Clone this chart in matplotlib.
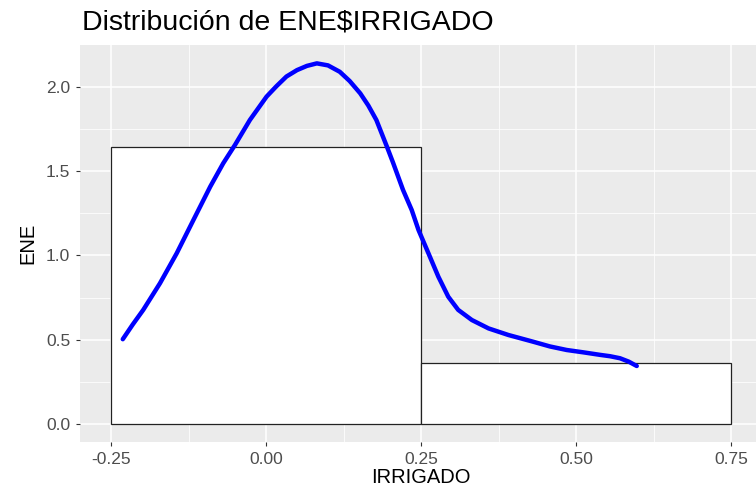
import matplotlib
matplotlib.use("Agg")
import matplotlib.pyplot as plt

plt.rcParams['font.family'] = ['Liberation Sans', 'DejaVu Sans']

# histogram bins (density scale)
bin_left = [-0.25, 0.25]
bin_width = 0.5
bin_height = [1.644, 0.362]

# density curve
dens_x = [-0.231, -0.215, -0.198, -0.171, -0.144, -0.117, -0.090, -0.069, -0.050, -0.026,
          0.001, 0.017, 0.033, 0.050, 0.066, 0.082, 0.100, 0.119, 0.135, 0.152,
          0.165, 0.178, 0.195, 0.205, 0.221, 0.235, 0.246, 0.262, 0.278, 0.294,
          0.310, 0.332, 0.359, 0.391, 0.411, 0.431, 0.458, 0.485, 0.512,
          0.539, 0.555, 0.571, 0.585, 0.598]
dens_y = [0.503, 0.590, 0.677, 0.835, 1.013, 1.211, 1.408, 1.547, 1.656, 1.804,
          1.943, 2.005, 2.062, 2.100, 2.125, 2.140, 2.128, 2.090, 2.035, 1.962,
          1.890, 1.804, 1.646, 1.550, 1.389, 1.270, 1.151, 1.013, 0.874, 0.755,
          0.677, 0.617, 0.567, 0.528, 0.508, 0.488, 0.460, 0.439, 0.425,
          0.410, 0.402, 0.390, 0.370, 0.344]

x_ticks = [-0.25, 0.0, 0.25, 0.50, 0.75]
x_labels = ['-0.25', '0.00', '0.25', '0.50', '0.75']
x_minor = [-0.125, 0.125, 0.375, 0.625]
y_ticks = [0.0, 0.5, 1.0, 1.5, 2.0]
y_labels = ['0.0', '0.5', '1.0', '1.5', '2.0']
y_minor = [0.25, 0.75, 1.25, 1.75]

fig = plt.figure(figsize=(7.56, 4.9), dpi=100)
ax = fig.add_axes([80/756, 48/490, 682/756, 397/490])
ax.set_facecolor('#EBEBEB')
for s in ax.spines.values():
    s.set_visible(False)

ax.set_xlim(-0.3, 0.8)
ax.set_ylim(-0.107, 2.249)
ax.set_xticks(x_ticks)
ax.set_xticklabels(x_labels)
ax.set_yticks(y_ticks)
ax.set_yticklabels(y_labels)
ax.set_xticks(x_minor, minor=True)
ax.set_yticks(y_minor, minor=True)

ax.grid(which='major', color='white', linewidth=1.1)
ax.grid(which='minor', color='white', linewidth=0.55)
ax.set_axisbelow(True)
ax.tick_params(which='major', length=3, width=0.8, color='#333333',
               labelcolor='#4D4D4D', labelsize=12.5)
ax.tick_params(axis='x', which='major', pad=4.5)
ax.tick_params(axis='y', which='major', pad=4)
ax.tick_params(which='minor', length=0)

ax.bar(bin_left, bin_height, width=bin_width, align='edge',
       facecolor='white', edgecolor='#222222', linewidth=0.9, zorder=2)
ax.plot(dens_x, dens_y, color='#0000FF', linewidth=3.2,
        solid_capstyle='round', solid_joinstyle='round', zorder=3)

ax.set_xlabel('IRRIGADO', fontsize=14.5, color='black', labelpad=0.5)
ax.set_ylabel('ENE', fontsize=14.5, color='black', labelpad=6)

fig.text(82/756, 1 - 22/490, 'Distribución de ENE$IRRIGADO',
         fontsize=20.5, ha='left', va='center', color='black')

fig.savefig('out.png', dpi=100)
